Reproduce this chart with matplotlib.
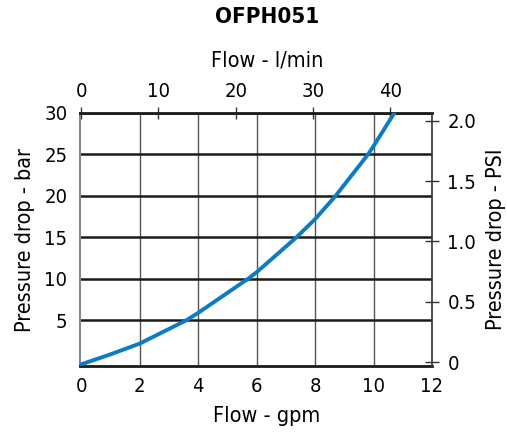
import numpy as np
import matplotlib
matplotlib.use("Agg")
import matplotlib.pyplot as plt

plt.rcParams['font.family'] = ['DejaVu Sans']
plt.rcParams['font.stretch'] = 'condensed'

# curve: flow (gpm) vs pressure drop (bar)
flow_gpm = [0, 1, 2, 3.59, 4, 5.7, 6, 7.36, 8, 8.7, 9.81, 10, 10.71]
drop_bar = [-0.3, 0.9, 2.2, 5.0, 5.9, 10.0, 10.8, 15.0, 17.2, 20.0, 25.0, 26.0, 30.0]

gpm_ticks = [0, 2, 4, 6, 8, 10, 12]
lpm_ticks = [0, 10, 20, 30, 40]
bar_ticks = [5, 10, 15, 20, 25, 30]
psi_ticks = [0, 0.5, 1.0, 1.5, 2.0]
psi_labels = ['0', '0.5', '1.0', '1.5', '2.0']

fig = plt.figure(figsize=(5.07, 4.33), dpi=100)
ax = fig.add_axes([80/507, 67/433, 352/507, 253/433])

ax.set_xlim(-0.04, 12.0)
ax.set_ylim(-0.5, 30)

# grid
for g in [2, 4, 6, 8, 10]:
    ax.axvline(g, color='#555555', lw=1.0, zorder=1)
for b in bar_ticks:
    ax.axhline(b, color='#1a1a1a', lw=1.8, zorder=1)

ax.plot(flow_gpm, drop_bar, color='#0a7bc4', lw=2.8, zorder=3, solid_capstyle='round')

ax.set_xticks(gpm_ticks)
ax.set_yticks(bar_ticks)
ax.tick_params(axis='x', length=0, pad=8, labelsize=14.5)
ax.tick_params(axis='y', length=0, pad=9, labelsize=14.5)
ax.set_xlabel('Flow - gpm', fontsize=15.5)
ax.xaxis.set_label_coords(0.531, -0.16)
ax.set_ylabel('Pressure drop - bar', fontsize=15.5, labelpad=7)

ax.spines['left'].set_color('#888888')
ax.spines['left'].set_linewidth(1.5)
ax.spines['bottom'].set_color('#1a1a1a')
ax.spines['bottom'].set_linewidth(2)
ax.spines['top'].set_color('#1a1a1a')
ax.spines['top'].set_linewidth(2)
ax.spines['right'].set_visible(False)

# top axis in l/min
top = ax.secondary_xaxis('top', functions=(lambda x: x * 3.785, lambda x: x / 3.785))
top.set_xticks(lpm_ticks)
top.tick_params(direction='inout', length=9, width=1, color='#333333', pad=4, labelsize=14.5)
top.spines['top'].set_visible(False)
fig.text(267/507, 1 - 61/433, 'Flow - l/min', ha='center', va='center', fontsize=15.5)

# right axis in PSI
ax2 = ax.twinx()
ax2.set_ylim(-0.033, 2.066)
ax2.set_yticks(psi_ticks)
ax2.set_yticklabels(psi_labels)
ax2.tick_params(axis='y', direction='inout', length=10, width=1, color='#333333', pad=6, labelsize=14.5)
for s in ['top', 'bottom', 'left']:
    ax2.spines[s].set_visible(False)
ax2.spines['right'].set_color('#333333')
ax2.spines['right'].set_linewidth(1.2)
ax2.set_ylabel('Pressure drop - PSI', fontsize=15.5, labelpad=7)

fig.text(267/507, 1 - 17/433, 'OFPH051', ha='center', va='center', fontsize=16, fontweight='bold')

fig.savefig('out.png', dpi=100)
